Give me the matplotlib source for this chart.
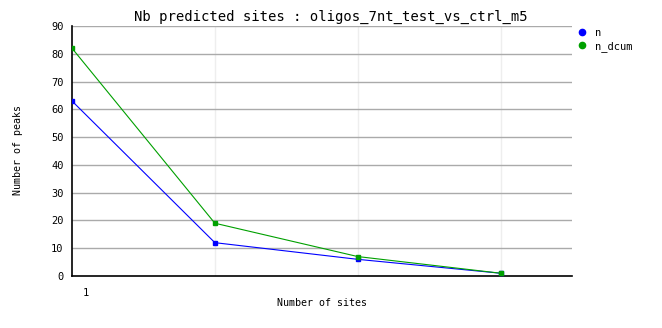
import matplotlib
matplotlib.use("Agg")
import matplotlib.pyplot as plt

sites = [0, 1, 2, 3]
n = [63, 12, 6, 1]
n_dcum = [82, 19, 7, 1]
yticks = list(range(0, 100, 10))

plt.rcParams['font.family'] = 'DejaVu Sans Mono'

fig = plt.figure(figsize=(6.62, 3.28), dpi=100)
ax = fig.add_axes([72 / 662, 1 - 276 / 328, 500 / 662, 250 / 328])

# grille horizontale grise, verticale tres pale
for y in yticks[1:]:
    ax.axhline(y, color='#aaaaaa', lw=1, zorder=1)
for x in sites[1:]:
    ax.axvline(x, color='#eeeeee', lw=1, zorder=0)

ax.plot(sites, n, color='#0000ff', lw=0.8, marker='s', ms=3, zorder=3, label='n')
ax.plot(sites, n_dcum, color='#00a000', lw=0.8, marker='s', ms=3, zorder=3, label='n_dcum')

ax.set_xlim(0, 3.5)
ax.set_ylim(0, 90)
ax.set_yticks(yticks)
ax.set_xticks([])
ax.tick_params(axis='y', length=0, labelsize=7.5, pad=6)
for s in ['top', 'right']:
    ax.spines[s].set_visible(False)
ax.spines['left'].set_linewidth(1.2)
ax.spines['bottom'].set_linewidth(1.2)
ax.text(14 / 500 * 3.5, -4.5, '1', ha='center', va='top', fontsize=7.5)

fig.text(331 / 662, 1 - 17 / 328, 'Nb predicted sites : oligos_7nt_test_vs_ctrl_m5',
         ha='center', va='center', fontsize=10)
fig.text(322 / 662, 1 - 303 / 328, 'Number of sites', ha='center', va='center', fontsize=7.2)
fig.text(18 / 662, 1 - 150 / 328, 'Number of peaks', ha='center', va='center',
         rotation=90, fontsize=7.2)

ax.legend(loc='upper left', bbox_to_anchor=(0.995, 1.03), frameon=False, fontsize=7.5,
          handlelength=0.6, handletextpad=0.9, labelspacing=0.3, markerscale=1.5)
leg = ax.get_legend()
for h in leg.legend_handles:
    h.set_linestyle('none')
    h.set_marker('o')

fig.savefig('out.png', dpi=100)
